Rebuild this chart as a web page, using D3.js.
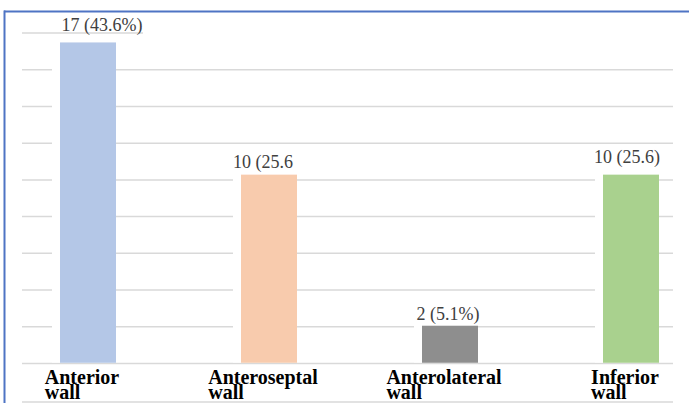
<!DOCTYPE html>
<html>
<head>
<meta charset="utf-8">
<script src="https://cdn.jsdelivr.net/npm/d3@7"></script>
<style>
  html, body { margin: 0; padding: 0; background: #fff; }
  svg { display: block; }
  .serif { font-family: "Liberation Serif", "Times New Roman", serif; }
</style>
</head>
<body>
<svg id="chart" width="689" height="403"></svg>
<script>
// Infarct location counts
const categories = [["Anterior", "wall"], ["Anteroseptal", "wall"], ["Anterolateral", "wall"], ["Inferior", "wall"]];
const counts = [17, 10, 2, 10];
const valueLabels = ["17 (43.6%)", "10 (25.6", "2 (5.1%)", "10 (25.6)"];
const barColors = ["#b4c7e7", "#f8cbad", "#8e8e8e", "#a9d18e"];

// Small per-label nudges for the value labels
const labelDx = [14, -6, -2, -4];
const labelDy = [-11, -7, -6, -12];

const W = 689, H = 403;
const plotLeft = 22, plotRight = 673;
const yBase = 363.5, yTop = 33;
const yMax = 17.5, gridCount = 9;
const barW = 56;

const svg = d3.select("#chart");

const x = d3.scalePoint()
  .domain(d3.range(categories.length))
  .range([88, 631]);

const y = d3.scaleLinear()
  .domain([0, yMax])
  .range([yBase, yTop]);

// Horizontal gridlines
const gridVals = d3.range(1, gridCount).map(i => yMax * i / gridCount);
svg.append("g")
  .selectAll("line")
  .data(gridVals)
  .join("line")
  .attr("x1", plotLeft).attr("x2", plotRight)
  .attr("y1", d => y(d)).attr("y2", d => y(d))
  .attr("stroke", "#d9d9d9").attr("stroke-width", 1.5);

// Top gridline (only visible beside the first value label)
svg.append("line")
  .attr("x1", plotLeft).attr("x2", 143)
  .attr("y1", y(yMax)).attr("y2", y(yMax))
  .attr("stroke", "#d9d9d9").attr("stroke-width", 1.5);

// Baseline and lower rule
svg.append("line")
  .attr("x1", plotLeft).attr("x2", plotRight)
  .attr("y1", yBase).attr("y2", yBase)
  .attr("stroke", "#d9d9d9").attr("stroke-width", 1.5);
svg.append("line")
  .attr("x1", plotLeft).attr("x2", plotRight)
  .attr("y1", 402).attr("y2", 402)
  .attr("stroke", "#d9d9d9").attr("stroke-width", 1.5);

// White gap to the left of each bar
svg.append("g")
  .selectAll("rect")
  .data(counts)
  .join("rect")
  .attr("x", (d, i) => x(i) - barW / 2 - 8)
  .attr("width", 8)
  .attr("y", d => y(d))
  .attr("height", d => yBase - 1 - y(d))
  .attr("fill", "#fff");

// Bars
svg.append("g")
  .selectAll("rect")
  .data(counts)
  .join("rect")
  .attr("x", (d, i) => x(i) - barW / 2)
  .attr("width", barW)
  .attr("y", d => y(d))
  .attr("height", d => yBase - 0.75 - y(d))
  .attr("fill", (d, i) => barColors[i]);

// Value labels
svg.append("g")
  .attr("class", "serif")
  .selectAll("text")
  .data(counts)
  .join("text")
  .attr("x", (d, i) => x(i) + labelDx[i])
  .attr("y", (d, i) => y(d) + labelDy[i])
  .attr("text-anchor", "middle")
  .style("font-size", "18px")
  .attr("fill", "#404040")
  .text((d, i) => valueLabels[i]);

// Category labels (two lines, left aligned)
const catG = svg.append("g")
  .attr("class", "serif")
  .style("font-weight", "bold")
  .style("font-size", "20px")
  .attr("fill", "#000");
categories.forEach((lines, i) => {
  const t = catG.append("text").attr("y", 384);
  lines.forEach((ln, k) => {
    t.append("tspan").attr("dy", k === 0 ? 0 : 15).attr("x", 0).text(ln);
  });
  const w = t.select("tspan").node().getComputedTextLength();
  const left = x(i) - w / 2 - 6;
  t.selectAll("tspan").attr("x", left);
});

// Frame lines
svg.append("line")
  .attr("x1", 4).attr("x2", W)
  .attr("y1", 11.5).attr("y2", 11.5)
  .attr("stroke", "#4f74c4").attr("stroke-width", 2);
svg.append("line")
  .attr("x1", 4.5).attr("x2", 4.5)
  .attr("y1", 10.5).attr("y2", H)
  .attr("stroke", "#4f74c4").attr("stroke-width", 2);
</script>
</body>
</html>
